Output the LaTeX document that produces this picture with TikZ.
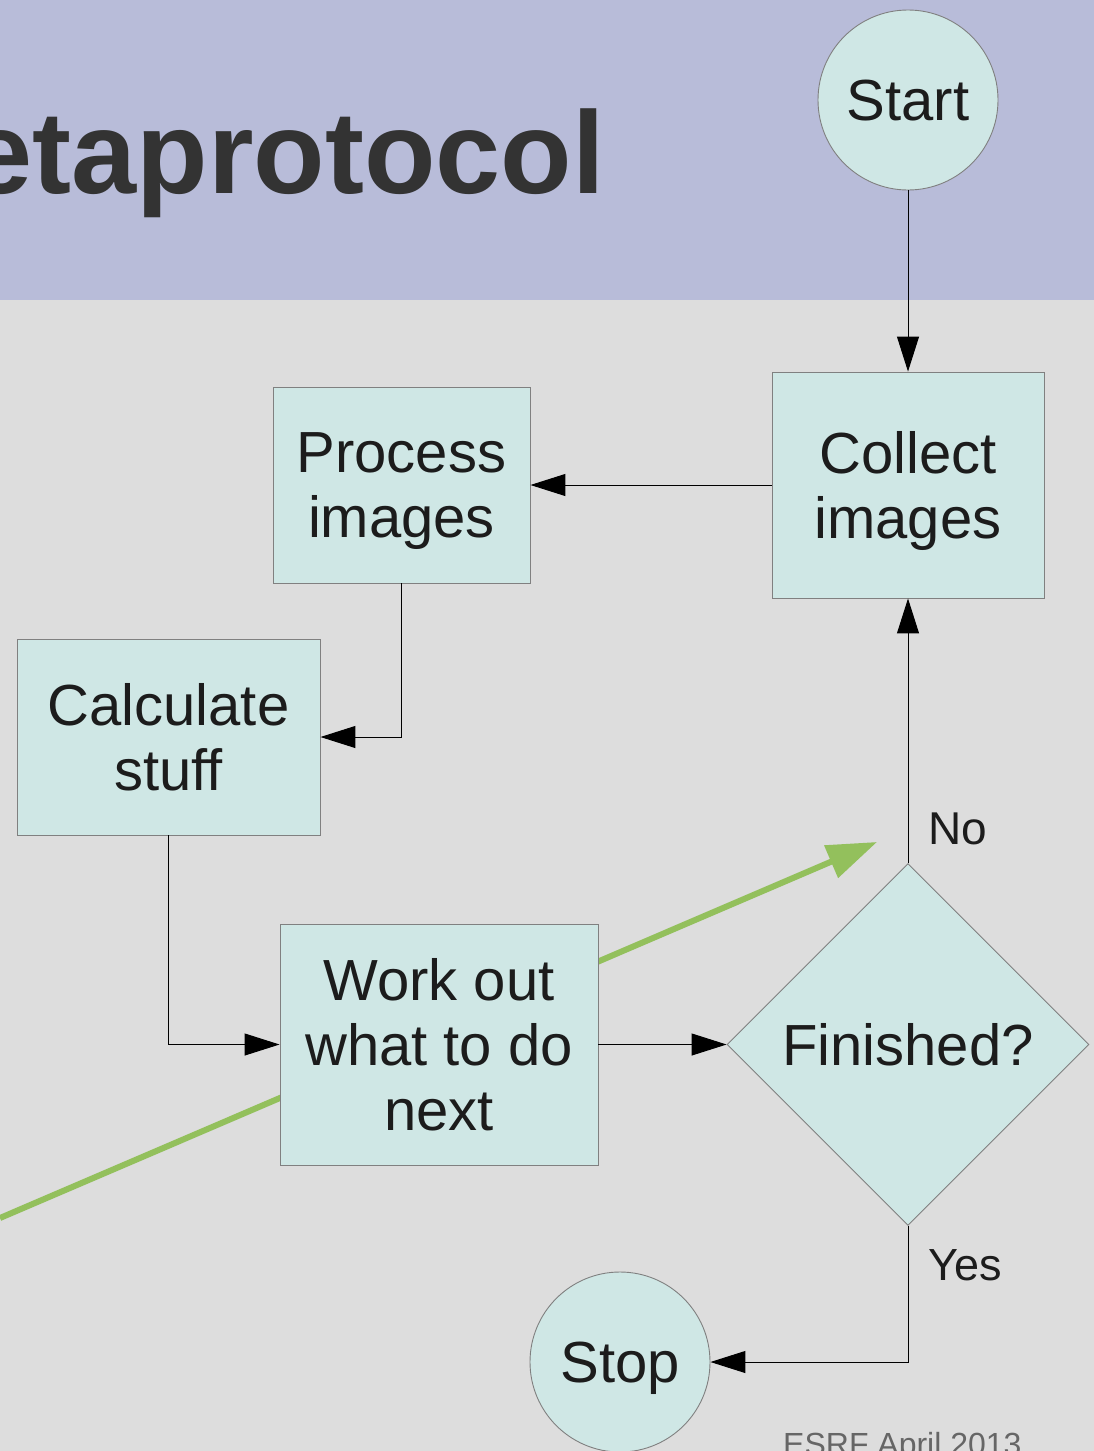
\documentclass[tikz,border=0pt]{standalone}
\usepackage{fontspec}
\setmainfont{Liberation Sans}
\usetikzlibrary{arrows.meta,shapes.geometric}
\definecolor{bandcol}{HTML}{B8BCD9}
\definecolor{bgcol}{HTML}{DDDDDD}
\definecolor{nodefill}{HTML}{CFE7E5}
\definecolor{nodeline}{HTML}{808080}
\definecolor{txtcol}{HTML}{1C1C1C}
\definecolor{titlecol}{HTML}{333333}
\definecolor{greencol}{HTML}{93C05C}
\definecolor{footcol}{HTML}{666666}
\tikzset{
  shapebase/.style={draw=nodeline, line width=0.9pt, fill=nodefill, text=txtcol,
    inner sep=0pt, align=center, text depth=0pt, font=\fontsize{58}{65}\selectfont},
  boxnode/.style={shapebase, rectangle},
  circnode/.style={shapebase, circle, minimum size=180pt},
  decnode/.style={shapebase, diamond, minimum width=362pt, minimum height=362pt},
  conn/.style={draw=black, line width=1pt, -{Triangle[length=35pt,width=22pt]}},
  lbl/.style={text=txtcol, font=\fontsize{46}{50}\selectfont, inner sep=0pt},
}
\begin{document}
\begin{tikzpicture}[x=1pt,y=-1pt]
\useasboundingbox (0,0) rectangle (1094,1451);
\clip (0,0) rectangle (1094,1451);
\fill[bgcol] (0,0) rectangle (1094,1451);
\fill[bandcol] (0,0) rectangle (1094,300);
\node[anchor=base east, inner sep=0pt, text=titlecol, font=\fontsize{117}{117}\selectfont\bfseries] (title) at (605,193) {etaprotocol};

\coordinate (gstart) at (0,1218);
\coordinate (gend) at (877,842);
\draw[greencol, line width=6pt, -{Triangle[length=50pt,width=34pt]}] (gstart) -- (gend);

\node[circnode] (start) at (908,100) {Start};
\node[boxnode, minimum width=272pt, minimum height=226pt] (collect) at (908,485) {Collect\\images};
\node[boxnode, minimum width=257pt, minimum height=196pt] (process) at (401.5,485) {Process\\images};
\node[boxnode, minimum width=303pt, minimum height=196pt] (calc) at (168.5,737) {Calculate\\stuff};
\node[boxnode, minimum width=318pt, minimum height=241pt] (work) at (439,1044.5) {Work out\\what to do\\next};
\node[decnode] (fin) at (908,1044.5) {Finished?};
\node[circnode] (stop) at (620,1362) {Stop};

\draw[conn] (start.south) -- (collect.north);
\draw[conn] (collect.west) -- (process.east);
\draw[conn] (process.south) |- (calc.east);
\draw[conn] (calc.south) |- (work.west);
\draw[conn] (work.east) -- (fin.west);
\draw[conn] (fin.north) -- (collect.south);
\draw[conn] (fin.south) |- (stop.east);

\node[lbl, anchor=base west] (nolbl) at (928,844) {No};
\node[lbl, anchor=base west, font=\fontsize{45}{50}\selectfont] (yeslbl) at (928,1280) {Yes};
\node[anchor=base west, inner sep=0pt, text=footcol, font=\fontsize{32}{36}\selectfont] (foot) at (783,1455) {ESRF April 2013};
\end{tikzpicture}
\end{document}
